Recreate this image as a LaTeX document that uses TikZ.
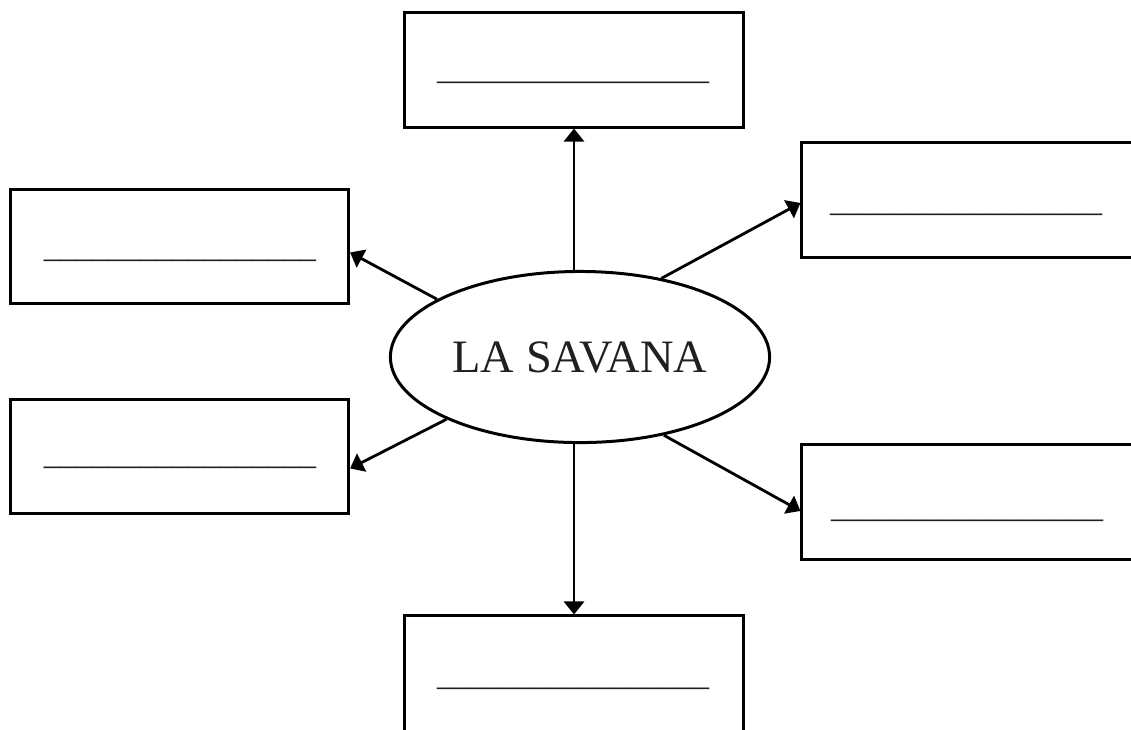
\documentclass[tikz,border=0pt]{standalone}
\usepackage{fontspec}
\setmainfont{Liberation Serif}
\usetikzlibrary{shapes.geometric,arrows.meta}
\definecolor{ink}{HTML}{231F20}
\begin{document}
\begin{tikzpicture}[x=0.01cm,y=-0.01cm,
  card/.style={draw,line width=0.85pt,minimum width=3.38cm,minimum height=1.14cm,inner sep=0pt},
  hub/.style={draw,ellipse,line width=0.85pt,minimum width=3.79cm,minimum height=1.71cm,
    inner sep=0pt,font=\fontsize{13.2}{15}\selectfont,text=ink},
  blank/.style={anchor=base,inner sep=0pt,font=\fontsize{9.1}{11}\selectfont,text=ink},
  link/.style={line width=0.8pt,-{Triangle[length=0.13cm,width=0.2cm]}}]
\useasboundingbox (0,0) rectangle (1131,729);
\clip (0,0) rectangle (1131,729);

% central ellipse
\node[hub] (hub) at (580,357) {LA SAVANA};

% surrounding boxes (the right-hand and bottom ones run off the page)
\node[card] (top) at (574,70) {};
\node[card] (lu)  at (179.5,246.5) {};
\node[card] (ll)  at (179.5,456.5) {};
\node[card] (ru)  at (971,200) {};
\node[card] (rl)  at (971,502) {};
\node[card,minimum height=1.4cm] (bot) at (574,686) {};

% blanks to fill in
\node[blank] (topline) at (573,79.5)  {\_\_\_\_\_\_\_\_\_\_\_\_\_\_\_\_\_};
\node[blank] (luline)  at (180,257.5) {\_\_\_\_\_\_\_\_\_\_\_\_\_\_\_\_\_};
\node[blank] (llline)  at (180,464)   {\_\_\_\_\_\_\_\_\_\_\_\_\_\_\_\_\_};
\node[blank] (ruline)  at (966,211)   {\_\_\_\_\_\_\_\_\_\_\_\_\_\_\_\_\_};
\node[blank] (rlline)  at (967,517)   {\_\_\_\_\_\_\_\_\_\_\_\_\_\_\_\_\_};
\node[blank] (botline) at (573,685.5) {\_\_\_\_\_\_\_\_\_\_\_\_\_\_\_\_\_};

% connectors
\draw[link] (hub.north -| top.south) -- (top.south);
\draw[link] (hub.south -| bot.north) -- (bot.north);
\draw[link] (hub.158.75) -- (lu.-2.9);
\draw[link] (hub.205.4) -- (ll.-4.55);
\draw[link] (hub.44.8) -- (ru.181.4);
\draw[link] (hub.-43.9) -- (rl.183.4);
\end{tikzpicture}
\end{document}
